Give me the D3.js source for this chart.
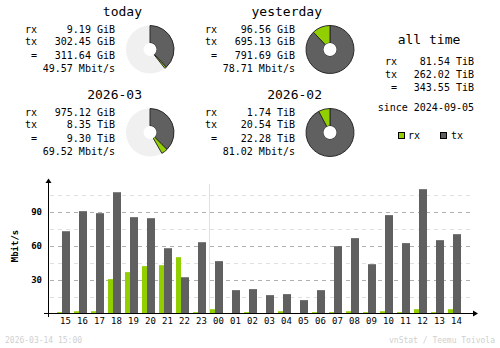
<!DOCTYPE html>
<html><head><meta charset="utf-8">
<script src="https://cdn.jsdelivr.net/npm/d3@7"></script>
<style>
html,body{margin:0;padding:0;background:#fff;}
svg{display:block;}
text{font-family:"DejaVu Sans Mono",monospace;}
</style></head>
<body>
<svg id="c" width="500" height="348"></svg>
<script>
// ---- data ----
const hours = ["15","16","17","18","19","20","21","22","23","00","01","02","03","04","05","06","07","08","09","10","11","12","13","14"];
const rxRate = [1.2,2,2,30.3,36.5,41.8,42.6,49.7,1.2,3.8,0,1.2,0,2,0,1.2,1.2,2,1.2,2,1.2,3.8,1.2,3.8];
const txRate = [72.6,90.3,88.5,107,85,84.1,57.6,32,62.9,46.2,20.6,21.5,16.2,17.1,11.8,20.6,59.4,66.5,43.5,86.8,62.1,109.7,64.7,70];
const yTicks = [30,60,90];
const yMinor = [15,45,75,105];

const panelTitles = ["today","yesterday","2026-03","2026-02"];
const panelRxText = ["9.19 GiB","96.56 GiB","975.12 GiB","1.74 TiB"];
const panelTxText = ["302.45 GiB","695.13 GiB","8.35 TiB","20.54 TiB"];
const panelTotText = ["311.64 GiB","791.69 GiB","9.30 TiB","22.28 TiB"];
const panelRateText = ["49.57 Mbit/s","78.71 Mbit/s","69.52 Mbit/s","81.02 Mbit/s"];
// pie values (same unit within a pair: GiB for days, TiB for months)
const pieRx = [9.19, 96.56, 0.9523, 1.74];
const pieTx = [302.45, 695.13, 8.35, 20.54];
const pieCompare = [[0,1],[0,1],[2,3],[2,3]];

const allTimeLabels = ["rx","tx","="];
const allTimeValues = ["81.54 TiB","262.02 TiB","343.55 TiB"];
const sinceText = "since 2024-09-05";
const footerLeft = "2026-03-14 15:00";
const footerRight = "vnStat / Teemu Toivola";

const RX = "#92cf00", TX = "#606060";

const svg = d3.select("#c");

// ---- summary panels ----
const panelPos = [[0,0],[180,0],[0,83],[180,83]];
panelPos.forEach(([dx,dy],i)=>{
  const g = svg.append("g").attr("transform",`translate(${dx},${dy})`);
  g.append("text").attr("x",142).attr("y",16).attr("text-anchor","end")
    .attr("font-size",13).text(panelTitles[i]);
  const labels = ["rx","tx","="];
  const vals = [panelRxText[i],panelTxText[i],panelTotText[i]];
  const ys = [32.5,45,58.5];
  labels.forEach((l,k)=>{
    g.append("text").attr("x",37).attr("y",ys[k]).attr("text-anchor","end").attr("font-size",10).text(l);
    g.append("text").attr("x",115).attr("y",ys[k]).attr("text-anchor","end").attr("font-size",10).text(vals[k]);
  });
  g.append("text").attr("x",115).attr("y",71.5).attr("text-anchor","end").attr("font-size",10).text(panelRateText[i]);

  // pie
  const [a,b] = pieCompare[i];
  const maxTot = Math.max(pieRx[a]+pieTx[a], pieRx[b]+pieTx[b]);
  const ang = d3.scaleLinear().domain([0,maxTot]).range([0,2*Math.PI]);
  const pg = g.append("g").attr("transform","translate(150,49.5)");
  pg.append("circle").attr("r",24).attr("fill","#f0f0f0");
  const arc = d3.arc().innerRadius(6.5).outerRadius(24);
  const tEnd = ang(pieTx[i]);
  const rEnd = ang(pieTx[i]+pieRx[i]);
  pg.append("path").attr("d",arc({startAngle:0,endAngle:tEnd})).attr("fill",TX).attr("stroke","#2a2a2a").attr("stroke-width",1);
  pg.append("path").attr("d",arc({startAngle:tEnd,endAngle:rEnd})).attr("fill",RX).attr("stroke","#2a2a2a").attr("stroke-width",1);
  pg.append("circle").attr("r",6.5).attr("fill","#fff");
});

// ---- all time ----
const at = svg.append("g");
at.append("text").attr("x",429).attr("y",43.5).attr("text-anchor","middle").attr("font-size",13).text("all time");
[65,78,91].forEach((y,k)=>{
  at.append("text").attr("x",397).attr("y",y).attr("text-anchor","end").attr("font-size",10).text(allTimeLabels[k]);
  at.append("text").attr("x",474).attr("y",y).attr("text-anchor","end").attr("font-size",10).text(allTimeValues[k]);
});
at.append("text").attr("x",474).attr("y",111).attr("text-anchor","end").attr("font-size",10).text(sinceText);
// legend
at.append("rect").attr("x",398.5).attr("y",132.5).attr("width",6).attr("height",6).attr("fill",RX).attr("stroke","#000");
at.append("text").attr("x",408).attr("y",139).attr("font-size",10).text("rx");
at.append("rect").attr("x",440.5).attr("y",132.5).attr("width",6).attr("height",6).attr("fill",TX).attr("stroke","#000");
at.append("text").attr("x",451).attr("y",139).attr("font-size",10).text("tx");

// ---- hourly chart ----
const x = d3.scaleBand().domain(hours).range([56,464]).padding(0);
const y = d3.scaleLinear().domain([0,90]).range([313.5,211.5]);
const ch = svg.append("g");

yMinor.forEach(v=>{
  ch.append("line").attr("x1",50).attr("x2",473).attr("y1",Math.round(y(v))+0.5).attr("y2",Math.round(y(v))+0.5)
    .attr("stroke","#e0e0e0").attr("stroke-dasharray","4,4");
});
yTicks.forEach(v=>{
  ch.append("line").attr("x1",50).attr("x2",473).attr("y1",Math.round(y(v))+0.5).attr("y2",Math.round(y(v))+0.5)
    .attr("stroke","#b0b0b0").attr("stroke-dasharray","4,4");
  ch.append("text").attr("x",42).attr("y",y(v)+3.5).attr("text-anchor","end")
    .attr("font-size",9).attr("font-weight","bold").text(v);
});
// day separator
const sepX = x("00") + 0.5;
ch.append("line").attr("x1",sepX).attr("x2",sepX).attr("y1",184).attr("y2",313).attr("stroke","#e0e0e0").attr("stroke-width",1);

// bars
ch.selectAll(".rx").data(hours).enter().append("rect")
  .attr("x",(h)=>x(h)+1).attr("width",5)
  .attr("y",(h,i)=>y(rxRate[i])).attr("height",(h,i)=>y(0)-y(rxRate[i]))
  .attr("fill",RX);
ch.selectAll(".tx").data(hours).enter().append("rect")
  .attr("x",(h)=>x(h)+6).attr("width",8)
  .attr("y",(h,i)=>y(txRate[i])).attr("height",(h,i)=>y(0)-y(txRate[i]))
  .attr("fill",TX);

// axes
ch.append("line").attr("x1",48.5).attr("x2",48.5).attr("y1",182).attr("y2",317).attr("stroke","#000");
ch.append("path").attr("d","M45.5,183 L51.5,183 L48.5,178.5 Z").attr("fill","#000");
ch.append("line").attr("x1",44).attr("x2",474).attr("y1",313.5).attr("y2",313.5).attr("stroke","#000");
ch.append("path").attr("d","M473,310.5 L473,316.5 L478,313.5 Z").attr("fill","#000");

// x labels
hours.forEach(h=>{
  ch.append("text").attr("x",x(h)+9.5).attr("y",324).attr("text-anchor","middle").attr("font-size",9).text(h);
});
// y label
ch.append("text").attr("transform","translate(18,246) rotate(-90)").attr("text-anchor","middle")
  .attr("font-size",9).attr("font-weight","bold").text("Mbit/s");

// footer
svg.append("text").attr("x",5).attr("y",342.5).attr("font-size",8).attr("fill","#d0d0d0").text(footerLeft);
svg.append("text").attr("x",495).attr("y",342.5).attr("text-anchor","end").attr("font-size",8).attr("fill","#d0d0d0").text(footerRight);
</script>
</body></html>
